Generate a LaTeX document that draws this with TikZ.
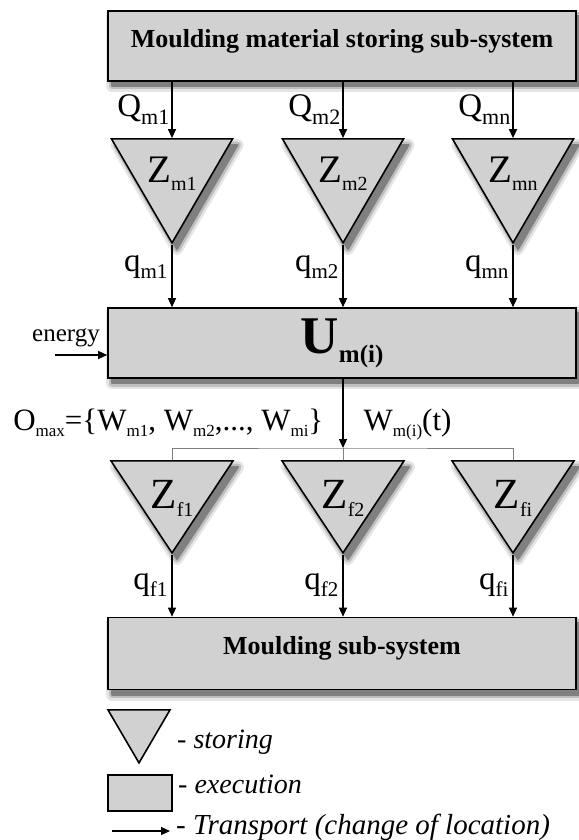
\documentclass[tikz,border=0pt]{standalone}
\usepackage{fontspec}
\setmainfont{Liberation Serif}
\usetikzlibrary{arrows.meta,positioning,calc,shapes.geometric,backgrounds}
\newcommand{\fsz}[1]{\fontsize{#1}{#1}\selectfont}
\newcommand{\lowsub}[3]{\raisebox{-#2pt}{\fontsize{#1}{#1}\selectfont #3}}
\tikzset{
  block/.style={draw=black, line width=1.6pt, fill=black!18, minimum width=468pt, minimum height=70pt, inner sep=0pt, text depth=16pt, font=\fsz{26}\bfseries},
  store/.style={draw=black, line width=1.6pt, fill=black!18, isosceles triangle, isosceles triangle stretches, shape border rotate=270, inner sep=0pt, anchor=apex},
  shadowwide/.style={draw=black!10, fill=black!10, line width=12pt, line join=round},
  shadowmid/.style={draw=black!25, fill=black!25, line width=7pt, line join=round},
  shadowcore/.style={draw=black!50, fill=black!50, line width=2pt, line join=round},
  keystore/.style={draw=black, line width=1.6pt, fill=black!18, isosceles triangle, isosceles triangle stretches, shape border rotate=270, inner sep=0pt, anchor=apex, minimum width=62pt, minimum height=53pt},
  keybox/.style={draw=black, line width=1.6pt, fill=black!18, minimum width=64pt, minimum height=36pt, inner sep=0pt},
  arrow/.style={-{Triangle[length=9pt,width=8pt]}, line width=1.3pt},
  branch/.style={draw=black!50, line width=0.9pt},
  flowlab/.style={inner sep=0pt, font=\fsz{33}},
  zlab/.style={inner sep=0pt, anchor=base},
  keylab/.style={inner sep=0pt, anchor=base west, font=\fsz{28}\itshape}
}
\begin{document}
\begin{tikzpicture}[x=1pt, y=-1pt]
\useasboundingbox (0,0) rectangle (578,840);

% soft shadows, drawn first so that the shapes lie on them
\foreach \shx/\shy/\shw/\shh in {342/46/468/70, 342/343/468/70, 342/653.5/468/72} {
  \draw[shadowwide] (\shx-\shw/2+4, \shy-\shh/2+5) rectangle (\shx+\shw/2+4, \shy+\shh/2+5);
  \draw[shadowmid] (\shx-\shw/2+4, \shy-\shh/2+5) rectangle (\shx+\shw/2+4, \shy+\shh/2+5);
  \draw[shadowcore] (\shx-\shw/2+4, \shy-\shh/2+5) rectangle (\shx+\shw/2+4, \shy+\shh/2+5);
}
\foreach \shx/\shy/\shw/\shh in {172/245/121/104, 343/245/121/104, 513/245/121/104, 172/555/122/92, 343/555/122/92, 513/555/122/92} {
  \draw[shadowwide] (\shx+5, \shy+4) -- (\shx-\shw/2+5, \shy-\shh+4) -- (\shx+\shw/2+5, \shy-\shh+4) -- cycle;
  \draw[shadowmid] (\shx+5, \shy+4) -- (\shx-\shw/2+5, \shy-\shh+4) -- (\shx+\shw/2+5, \shy-\shh+4) -- cycle;
  \draw[shadowcore] (\shx+5, \shy+4) -- (\shx-\shw/2+5, \shy-\shh+4) -- (\shx+\shw/2+5, \shy-\shh+4) -- cycle;
}

% material storing sub-system and its stores
\node[block] (matstore) at (342,46) {Moulding material storing sub-system};
\node[store, minimum width=121pt, minimum height=104pt] (zm1) at (172,245) {};
\node[store, minimum width=121pt, minimum height=104pt] (zm2) at (343,245) {};
\node[store, minimum width=121pt, minimum height=104pt] (zmn) at (513,245) {};
\node[zlab, font=\fsz{39}] (lzm1) at ($(zm1.apex)+(0,-63)$) {Z\lowsub{20}{8}{m1}};
\node[zlab, font=\fsz{39}] (lzm2) at ($(zm2.apex)+(0,-63)$) {Z\lowsub{20}{8}{m2}};
\node[zlab, font=\fsz{39}] (lzmn) at ($(zmn.apex)+(0,-63)$) {Z\lowsub{20}{8}{mn}};

\draw[arrow] (matstore.south -| zm1.apex) -- node[flowlab, anchor=base east, pos=0.62, xshift=-2pt] (lqm1) {Q\lowsub{22}{8}{m1}} (zm1.lower side);
\draw[arrow] (matstore.south -| zm2.apex) -- node[flowlab, anchor=base east, pos=0.62, xshift=-2pt] (lqm2) {Q\lowsub{22}{8}{m2}} (zm2.lower side);
\draw[arrow] (matstore.south -| zmn.apex) -- node[flowlab, anchor=base east, pos=0.62, xshift=-2pt] (lqmn) {Q\lowsub{22}{8}{mn}} (zmn.lower side);

% machine
\node[block, text depth=, font=\fsz{53}\bfseries] (umach) at (342,343) {U\lowsub{25}{9}{m(i)}};
\draw[arrow] (zm1.apex) -- node[flowlab, anchor=base east, pos=0.43, xshift=-4pt] (lsm1) {q\lowsub{21}{7}{m1}} (zm1.apex |- umach.north);
\draw[arrow] (zm2.apex) -- node[flowlab, anchor=base east, pos=0.43, xshift=-4pt] (lsm2) {q\lowsub{21}{7}{m2}} (zm2.apex |- umach.north);
\draw[arrow] (zmn.apex) -- node[flowlab, anchor=base east, pos=0.43, xshift=-4pt] (lsmn) {q\lowsub{21}{7}{mn}} (zmn.apex |- umach.north);

\coordinate (enin) at (55,355);
\draw[arrow] (enin) -- (enin -| umach.west);
\node[inner sep=0pt, anchor=base east, font=\fsz{25}] (lenergy) at (100,341) {energy};

% output split to the f-stores
\coordinate (split) at (343,448);
\draw[arrow] (umach.south -| split) -- node[flowlab, anchor=base east, pos=0.74, xshift=-19pt, font=\fsz{31}] (lomax)
  {O\lowsub{17}{6}{max}=\{W\lowsub{17}{6}{m1}, W\lowsub{17}{6}{m2},..., W\lowsub{17}{6}{mi}\}}
  node[flowlab, anchor=base west, pos=0.74, xshift=20pt, font=\fsz{31}] (lwm) {W\lowsub{17}{6}{m(i)}(t)} (split);

\node[store, minimum width=122pt, minimum height=92pt] (zf1) at (172,555) {};
\node[store, minimum width=122pt, minimum height=92pt] (zf2) at (343,555) {};
\node[store, minimum width=122pt, minimum height=92pt] (zfi) at (513,555) {};
\node[zlab, font=\fsz{43}] (lzf1) at ($(zf1.apex)+(0,-47)$) {Z\lowsub{20}{8}{f1}};
\node[zlab, font=\fsz{43}] (lzf2) at ($(zf2.apex)+(0,-47)$) {Z\lowsub{20}{8}{f2}};
\node[zlab, font=\fsz{43}] (lzfi) at ($(zfi.apex)+(0,-47)$) {Z\lowsub{20}{8}{fi}};
\draw[branch] (zf1.lower side) |- (split) -| (zfi.lower side);
\draw[branch] (split) -- (zf2.lower side);

% moulding sub-system
\node[block, minimum height=72pt] (mould) at (342,653.5) {Moulding sub-system};
\draw[arrow] (zf1.apex) -- node[flowlab, anchor=base east, pos=0.56, xshift=-4pt] (lsf1) {q\lowsub{21}{7}{f1}} (zf1.apex |- mould.north);
\draw[arrow] (zf2.apex) -- node[flowlab, anchor=base east, pos=0.56, xshift=-4pt] (lsf2) {q\lowsub{21}{7}{f2}} (zf2.apex |- mould.north);
\draw[arrow] (zfi.apex) -- node[flowlab, anchor=base east, pos=0.56, xshift=-4pt] (lsfi) {q\lowsub{21}{7}{fi}} (zfi.apex |- mould.north);

% key
\node[keystore] (keytri) at (139,765) {};
\node[keylab] (lkeytri) at (177,748) {- storing};
\node[keybox] (keyrect) at (140,793) {};
\node[keylab] (lkeyrect) at (178,793) {- execution};
\coordinate (keyfrom) at (112,831);
\coordinate (keyto) at (170,831);
\draw[arrow] (keyfrom) -- (keyto);
\node[keylab, font=\fsz{29}\itshape] (lkeyarrow) at (176,834) {- Transport (change of location)};
\end{tikzpicture}
\end{document}
